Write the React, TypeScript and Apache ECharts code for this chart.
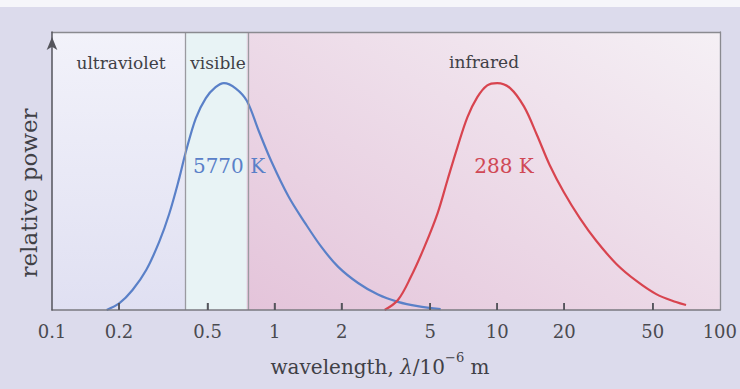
import React, { useEffect, useRef } from "react";
import * as echarts from "echarts";

const tickValues = [0.1, 0.2, 0.5, 1, 2, 5, 10, 20, 50, 100];
const tickLabels = ["0.1", "0.2", "0.5", "1", "2", "5", "10", "20", "50", "100"];
const regionNames = ["ultraviolet", "visible", "infrared"];
const regionBounds = [0.1, 0.4, 0.75, 100];
const curveLabels = ["5770 K", "288 K"];

const sunWavelength = [0.176, 0.201, 0.23, 0.265, 0.303, 0.336, 0.373, 0.399, 0.443, 0.491, 0.543, 0.592, 0.668, 0.75, 0.848, 0.97, 1.155, 1.371, 1.622, 1.931, 2.371, 2.913, 3.58, 4.39, 5.57];
const sunPower = [0, 0.03, 0.088, 0.176, 0.3, 0.423, 0.581, 0.696, 0.846, 0.934, 0.982, 1.0, 0.977, 0.922, 0.79, 0.652, 0.5, 0.383, 0.278, 0.19, 0.119, 0.068, 0.036, 0.017, 0.004];

const earthWavelength = [3.12, 3.58, 4.09, 4.71, 5.4, 5.98, 6.63, 7.35, 8.14, 9.02, 10.0, 11.43, 13.2, 15.1, 17.2, 19.9, 23.5, 27.9, 34.3, 42.2, 51.8, 63.6, 70.5];
const earthPower = [0, 0.044, 0.145, 0.278, 0.427, 0.573, 0.718, 0.85, 0.938, 0.99, 1.0, 0.978, 0.896, 0.77, 0.639, 0.52, 0.405, 0.304, 0.203, 0.128, 0.07, 0.035, 0.022];

const lg = (v: number) => Math.log10(v);
const FONT = "DejaVu Serif";
const Y_MAX = 1.225;

export default function App() {
  const ref = useRef<HTMLDivElement>(null);
  useEffect(() => {
    if (!ref.current) return;
    const chart = echarts.init(ref.current, null, { renderer: "svg" });
    const innerTicks = tickValues.slice(1, -1);
    const labelFor = (v: number) => {
      for (let i = 0; i < tickValues.length; i++) {
        if (Math.abs(lg(tickValues[i]) - v) < 1e-6) return tickLabels[i];
      }
      return "";
    };
    const frameAxis = { show: true, onZero: false, lineStyle: { color: "#8a8a90", width: 1.3 } };
    const option: any = {
      animation: false,
      backgroundColor: "#dcdbec",
      grid: { left: 52, right: 18, top: 32, bottom: 79 },
      xAxis: [
        {
          type: "value",
          z: 10,
          min: -1,
          max: 2,
          splitLine: { show: false },
          axisLine: { onZero: false, lineStyle: { color: "#7a7a80", width: 1.5 } },
          axisTick: {
            show: true,
            inside: true,
            length: 7,
            customValues: innerTicks.map(lg),
            lineStyle: { color: "#55555c", width: 1.5 },
          },
          axisLabel: {
            customValues: tickValues.map(lg),
            formatter: (v: number) => labelFor(v),
            fontFamily: FONT,
            fontSize: 18,
            color: "#4a4a50",
            margin: 12,
          },
        },
        {
          type: "value",
          z: 10,
          position: "top",
          min: -1,
          max: 2,
          splitLine: { show: false },
          axisLine: frameAxis,
          axisTick: { show: false },
          axisLabel: { show: false },
        },
      ],
      yAxis: [
        {
          type: "value",
          z: 11,
          min: 0,
          max: Y_MAX,
          splitLine: { show: false },
          axisTick: { show: false },
          axisLabel: { show: false },
          axisLine: {
            show: true,
            onZero: false,
            symbol: ["none", "arrow"],
            symbolSize: [8, 13],
            symbolOffset: [0, -5],
            lineStyle: { color: "#55555c", width: 1.5 },
          },
        },
        {
          type: "value",
          z: 10,
          position: "right",
          min: 0,
          max: Y_MAX,
          splitLine: { show: false },
          axisTick: { show: false },
          axisLabel: { show: false },
          axisLine: frameAxis,
        },
      ],
      series: [
        {
          type: "line",
          data: [],
          z: 1,
          silent: true,
          markArea: {
            silent: true,
            data: [
              [
                {
                  xAxis: lg(regionBounds[0]),
                  itemStyle: {
                    color: new echarts.graphic.LinearGradient(0, 0, 0, 1, [
                      { offset: 0, color: "#f2f2fa" },
                      { offset: 1, color: "#e0e0f2" },
                    ]),
                  },
                },
                { xAxis: lg(regionBounds[1]) },
              ],
              [
                { xAxis: lg(regionBounds[1]), itemStyle: { color: "#e8f3f5" } },
                { xAxis: lg(regionBounds[2]) },
              ],
              [
                {
                  xAxis: lg(regionBounds[2]),
                  itemStyle: {
                    color: new echarts.graphic.LinearGradient(0, 1, 1, 0, [
                      { offset: 0, color: "#e4c4da" },
                      { offset: 1, color: "#f5f0f5" },
                    ]),
                  },
                },
                { xAxis: lg(regionBounds[3]) },
              ],
            ],
          },
          markLine: {
            silent: true,
            symbol: "none",
            label: { show: false },
            lineStyle: { color: "#9a9aa0", width: 1.3, type: "solid" },
            data: [{ xAxis: lg(regionBounds[1]) }, { xAxis: lg(regionBounds[2]) }],
          },
        },
        {
          type: "custom",
          z: 100,
          silent: true,
          clip: false,
          encode: { x: 0, y: 1 },
          data: innerTicks.map((v) => [lg(v), 0]),
          renderItem: (params: any, api: any) => {
            const p = api.coord([api.value(0), api.value(1)]);
            return {
              type: "line",
              z2: 100,
              shape: { x1: p[0], y1: p[1], x2: p[0], y2: p[1] - 7 },
              style: { stroke: "#55555c", lineWidth: 1.6 },
            };
          },
        },
        {
          type: "line",
          z: 3,
          smooth: 0.35,
          showSymbol: false,
          lineStyle: { color: "#5a80c8", width: 2.2 },
          data: sunWavelength.map((w, i) => [lg(w), sunPower[i]]),
        },
        {
          type: "line",
          z: 3,
          smooth: 0.35,
          showSymbol: false,
          lineStyle: { color: "#d8444f", width: 2.2 },
          data: earthWavelength.map((w, i) => [lg(w), earthPower[i]]),
        },
      ],
      graphic: [
        { type: "rect", z: -1, shape: { x: 0, y: 0, width: 740, height: 7 }, style: { fill: "#f6f6fa" } },
        {
          type: "text", z: 10, x: 121, y: 63,
          style: { text: regionNames[0], font: `17px "${FONT}"`, fill: "#404046", align: "center", verticalAlign: "middle" },
        },
        {
          type: "text", z: 10, x: 218, y: 63,
          style: { text: regionNames[1], font: `17px "${FONT}"`, fill: "#404046", align: "center", verticalAlign: "middle" },
        },
        {
          type: "text", z: 10, x: 484, y: 62,
          style: { text: regionNames[2], font: `17px "${FONT}"`, fill: "#404046", align: "center", verticalAlign: "middle" },
        },
        {
          type: "text", z: 10, x: 229, y: 166,
          style: { text: curveLabels[0], font: `20px "${FONT}"`, fill: "#5a80c8", align: "center", verticalAlign: "middle" },
        },
        {
          type: "text", z: 10, x: 504, y: 166,
          style: { text: curveLabels[1], font: `20px "${FONT}"`, fill: "#d04855", align: "center", verticalAlign: "middle" },
        },
        {
          type: "text", z: 10, x: 29, y: 193, rotation: Math.PI / 2,
          style: { text: "relative power", font: `23px "${FONT}"`, fill: "#404046", align: "center", verticalAlign: "middle" },
        },
        {
          type: "text", z: 10, x: 380, y: 364,
          style: {
            text: "{a|wavelength, }{i|λ}{a|/10}{s|−6}{a| m}",
            align: "center",
            verticalAlign: "middle",
            rich: {
              a: { fontFamily: FONT, fontSize: 20, fill: "#404046", verticalAlign: "bottom", lineHeight: 26 },
              i: { fontFamily: FONT, fontSize: 20, fontStyle: "italic", fill: "#404046", verticalAlign: "bottom", lineHeight: 26 },
              s: { fontFamily: FONT, fontSize: 13, fill: "#404046", verticalAlign: "top", lineHeight: 26 },
            },
          },
        },
      ],
    };
    chart.setOption(option);
    return () => chart.dispose();
  }, []);
  return (
    <div
      ref={ref}
      style={{ position: "fixed", left: 0, top: 0, width: 740, height: 389 }}
    />
  );
}
